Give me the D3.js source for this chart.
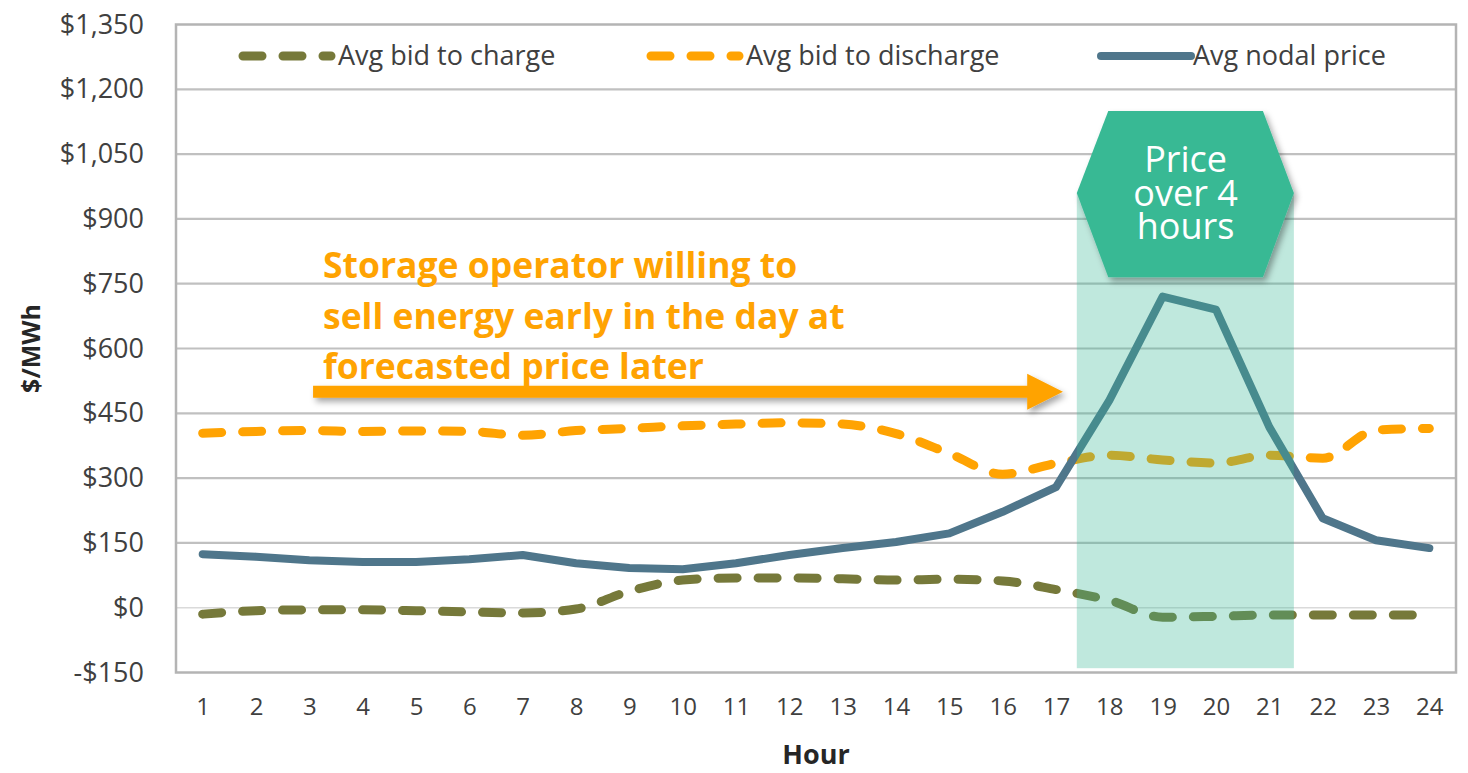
<!DOCTYPE html>
<html>
<head>
<meta charset="utf-8">
<script src="https://cdn.jsdelivr.net/npm/d3@7"></script>
<style>
  body { margin: 0; background: #fff; }
  svg { display: block; }
  .tick text { fill: #404040; }
</style>
</head>
<body>
<div id="chart"></div>
<script>
// data
const hours = d3.range(1, 25);
const bidCharge = [-15, -7, -5, -5, -7, -10, -12, -3, 38, 64, 69, 69, 67, 64, 66, 62, 42, 17, -22, -20, -17, -17, -17, -17];
const bidDischarge = [404, 408, 410, 408, 409, 408, 399, 410, 415, 421, 425, 428, 425, 403, 357, 309, 334, 353, 342, 335, 353, 346, 411, 415];
const nodalPrice = [124, 118, 110, 106, 106, 112, 122, 103, 92, 89, 103, 122, 138, 152, 172, 222, 279, 480, 720, 690, 418, 207, 156, 138];
const yTicks = [-150, 0, 150, 300, 450, 600, 750, 900, 1050, 1200, 1350];

const series = [
  { name: 'Avg bid to charge', values: bidCharge, color: '#76793a', dash: '19,21', width: 9, curve: d3.curveMonotoneX },
  { name: 'Avg bid to discharge', values: bidDischarge, color: '#ffa302', dash: '19,21', width: 9, curve: d3.curveMonotoneX },
  { name: 'Avg nodal price', values: nodalPrice, color: '#4f768b', dash: null, width: 8, curve: d3.curveLinear },
];

const width = 1468;
const height = 773;
const margin = { top: 24.5, right: 12, bottom: 100.5, left: 176 };
const font = '"Open Sans", sans-serif';

const svg = d3.select('#chart').append('svg')
  .attr('width', width)
  .attr('height', height);

const defs = svg.append('defs');
const shadow = defs.append('filter').attr('id', 'shadow')
  .attr('x', '-10%').attr('y', '-50%').attr('width', '130%').attr('height', '250%');
shadow.append('feDropShadow')
  .attr('dx', 3).attr('dy', 4).attr('stdDeviation', 3)
  .attr('flood-color', '#000').attr('flood-opacity', 0.35);

const x = d3.scaleLinear().domain([0.5, 24.5]).range([margin.left, width - margin.right]);
const y = d3.scaleLinear().domain([-150, 1350]).range([height - margin.bottom, margin.top]);

// gridlines
svg.append('g')
  .selectAll('line')
  .data(yTicks.slice(1, -1))
  .enter()
  .append('line')
  .attr('x1', x(0.5)).attr('x2', x(24.5))
  .attr('y1', (d) => y(d)).attr('y2', (d) => y(d))
  .attr('stroke', (d) => (d === 0 ? '#dadada' : '#c0c0c0'))
  .attr('stroke-width', (d) => (d === 0 ? 1.5 : 2.2));

// plot border
svg.append('rect')
  .attr('x', x(0.5)).attr('y', y(1350))
  .attr('width', x(24.5) - x(0.5))
  .attr('height', y(-150) - y(1350))
  .attr('fill', 'none')
  .attr('stroke', '#b4b4b4')
  .attr('stroke-width', 2.5);

// y axis
const yAxis = d3.axisLeft(y).tickValues(yTicks).tickSize(0).tickPadding(0)
  .tickFormat((d) => (d < 0 ? '-$' : '$') + d3.format(',')(Math.abs(d)));
svg.append('g')
  .attr('transform', 'translate(144,0)')
  .call(yAxis)
  .call((g) => g.select('.domain').remove())
  .selectAll('text')
  .style('font-family', font)
  .style('font-size', '27px');

// x axis
const xAxis = d3.axisBottom(x).tickValues(hours).tickSize(0).tickPadding(0).tickFormat(d3.format('d'));
svg.append('g')
  .attr('transform', 'translate(0,698)')
  .call(xAxis)
  .call((g) => g.select('.domain').remove())
  .selectAll('text')
  .style('font-family', font)
  .style('font-size', '24px');

// axis titles
svg.append('text')
  .attr('x', (x(0.5) + x(24.5)) / 2)
  .attr('y', 764)
  .attr('text-anchor', 'middle')
  .style('font-family', font)
  .style('font-weight', 'bold')
  .style('font-size', '27px')
  .style('fill', '#262626')
  .text('Hour');

svg.append('text')
  .attr('transform', `translate(40,${(y(1350) + y(-150)) / 2}) rotate(-90)`)
  .attr('text-anchor', 'middle')
  .style('font-family', font)
  .style('font-weight', 'bold')
  .style('font-size', '25px')
  .style('fill', '#262626')
  .text('$/MWh');

// lines
svg.append('g')
  .selectAll('path')
  .data(series)
  .enter()
  .append('path')
  .attr('d', (d) => d3.line()
    .x((v, i) => x(hours[i]))
    .y((v) => y(v))
    .curve(d.curve)(d.values))
  .attr('fill', 'none')
  .attr('stroke', (d) => d.color)
  .attr('stroke-width', (d) => d.width)
  .attr('stroke-linecap', 'round')
  .attr('stroke-linejoin', 'round')
  .attr('stroke-dasharray', (d) => d.dash);

// legend
const legendX = [243, 651, 1101];
const legend = svg.append('g')
  .selectAll('g')
  .data(series)
  .enter()
  .append('g')
  .attr('transform', (d, i) => `translate(${legendX[i]},56)`);
legend.append('line')
  .attr('x1', 0).attr('x2', (d) => (d.dash ? 88 : 90))
  .attr('stroke', (d) => d.color)
  .attr('stroke-width', (d) => d.width)
  .attr('stroke-linecap', 'round')
  .attr('stroke-dasharray', (d) => d.dash);
legend.append('text')
  .attr('x', (d) => (d.dash ? 95 : 92))
  .attr('dy', '0.35em')
  .style('font-family', font)
  .style('font-size', '27px')
  .style('fill', '#404040')
  .text((d) => d.name);

// shaded 4 hour window
const green = '#38b994';
svg.append('rect')
  .attr('x', x(17.39)).attr('y', y(960))
  .attr('width', x(21.46) - x(17.39))
  .attr('height', y(-140) - y(960))
  .attr('fill', green)
  .attr('fill-opacity', 0.32);

// average price over 4 hours
svg.append('line')
  .attr('x1', x(17.13)).attr('x2', x(21.46))
  .attr('y1', y(500)).attr('y2', y(500))
  .attr('stroke', green)
  .attr('stroke-width', 12)
  .attr('filter', 'url(#shadow)');

// arrow
const arrowY = y(500);
const arrowPts = [
  [x(3.07), arrowY - 6], [x(16.46), arrowY - 6], [x(16.46), arrowY - 18],
  [x(17.13), arrowY], [x(16.46), arrowY + 18], [x(16.46), arrowY + 6], [x(3.07), arrowY + 6],
];
svg.append('polygon')
  .attr('points', arrowPts.map((p) => p.join(',')).join(' '))
  .attr('fill', '#ffa302')
  .attr('filter', 'url(#shadow)');

// annotation text
const note = ['Storage operator willing to', 'sell energy early in the day at', 'forecasted price later'];
svg.append('g')
  .selectAll('text')
  .data(note)
  .enter()
  .append('text')
  .attr('x', 323)
  .attr('y', (d, i) => 278 + i * 50.5)
  .style('font-family', font)
  .style('font-weight', 'bold')
  .style('font-size', '35.5px')
  .style('fill', '#ffa302')
  .text((d) => d);

// hexagon label
const hexPts = [
  [x(17.98), y(1150)], [x(20.88), y(1150)], [x(21.46), y(960)],
  [x(20.88), y(765)], [x(17.98), y(765)], [x(17.39), y(960)],
];
svg.append('polygon')
  .attr('points', hexPts.map((p) => p.join(',')).join(' '))
  .attr('fill', green)
  .attr('filter', 'url(#shadow)');

const hexLabel = ['Price', 'over 4', 'hours'];
svg.append('g')
  .selectAll('text')
  .data(hexLabel)
  .enter()
  .append('text')
  .attr('x', x(19.43))
  .attr('y', (d, i) => 172 + i * 33.5)
  .attr('text-anchor', 'middle')
  .style('font-family', font)
  .style('font-size', '36px')
  .style('fill', '#fff')
  .text((d) => d);
</script>
</body>
</html>
